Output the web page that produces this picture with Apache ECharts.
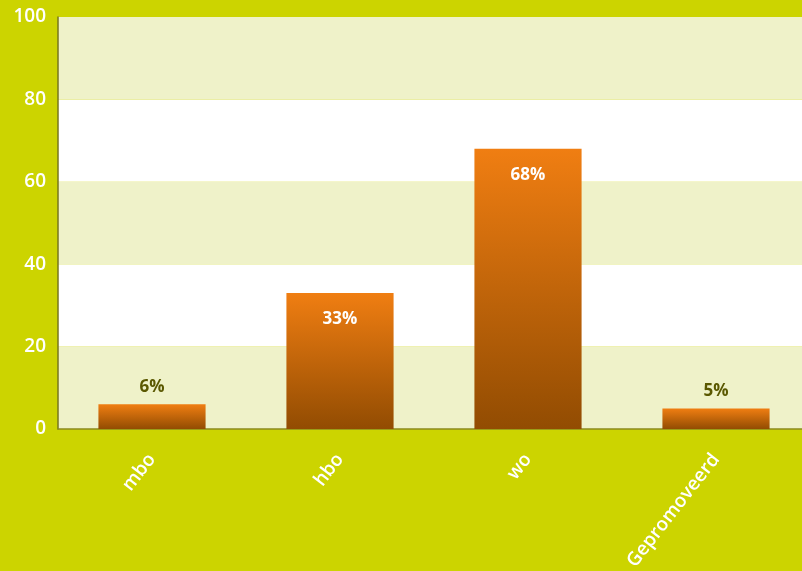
<!DOCTYPE html>
<html>
<head>
<meta charset="utf-8">
<script src="https://cdn.jsdelivr.net/npm/echarts@6/dist/echarts.min.js"></script>
<style>html,body{margin:0;padding:0;background:#CCD400;}#c{width:802px;height:571px;}</style>
</head>
<body>
<div id="c"></div>
<script>
var categories = ['mbo', 'hbo', 'wo', 'Gepromoveerd'];
var values = [6, 33, 68, 5];
var yTicks = [0, 20, 40, 60, 80, 100];

var chart = echarts.init(document.getElementById('c'));
var grad = new echarts.graphic.LinearGradient(0, 0, 0, 1, [
  {offset: 0, color: '#F07E12'},
  {offset: 1, color: '#924C02'}
]);
var data = values.map(function (v) {
  var inside = v > 20;
  return {
    value: v,
    label: {
      show: true,
      position: inside ? 'insideTop' : 'top',
      distance: inside ? 18 : 9,
      color: inside ? '#FFFFFF' : '#5A5800',
      fontSize: 17,
      fontWeight: 'bold',
      fontFamily: 'Open Sans',
      formatter: '{c}%'
    }
  };
});
chart.setOption({
  backgroundColor: '#CCD400',
  animation: false,
  grid: {left: 58, top: 17, width: 752, bottom: 142, containLabel: false, outerBoundsMode: 'none'},
  xAxis: {
    type: 'category',
    data: categories,
    axisLine: {show: true, lineStyle: {color: '#8C8A1E', width: 1.5}},
    axisTick: {show: false},
    axisLabel: {
      rotate: 52, color: '#FFFFFF', fontSize: 19, fontWeight: 600,
      fontFamily: 'Open Sans', margin: 27
    }
  },
  yAxis: {
    type: 'value', min: 0, max: 100, interval: 20,
    axisLine: {show: true, lineStyle: {color: '#76761E', width: 1.5}},
    axisTick: {show: false},
    splitLine: {show: false},
    splitArea: {show: true, areaStyle: {color: ['#EFF2C9', '#FFFFFF']}},
    axisLabel: {
      color: '#FFFFFF', fontSize: 19, fontWeight: 600, fontFamily: 'Open Sans', margin: 12,
      formatter: function (v) { return yTicks.indexOf(v) >= 0 ? String(v) : ''; }
    }
  },
  series: [{
    type: 'bar',
    data: data,
    barWidth: '57%',
    itemStyle: {color: grad}
  }]
});
</script>
</body>
</html>
